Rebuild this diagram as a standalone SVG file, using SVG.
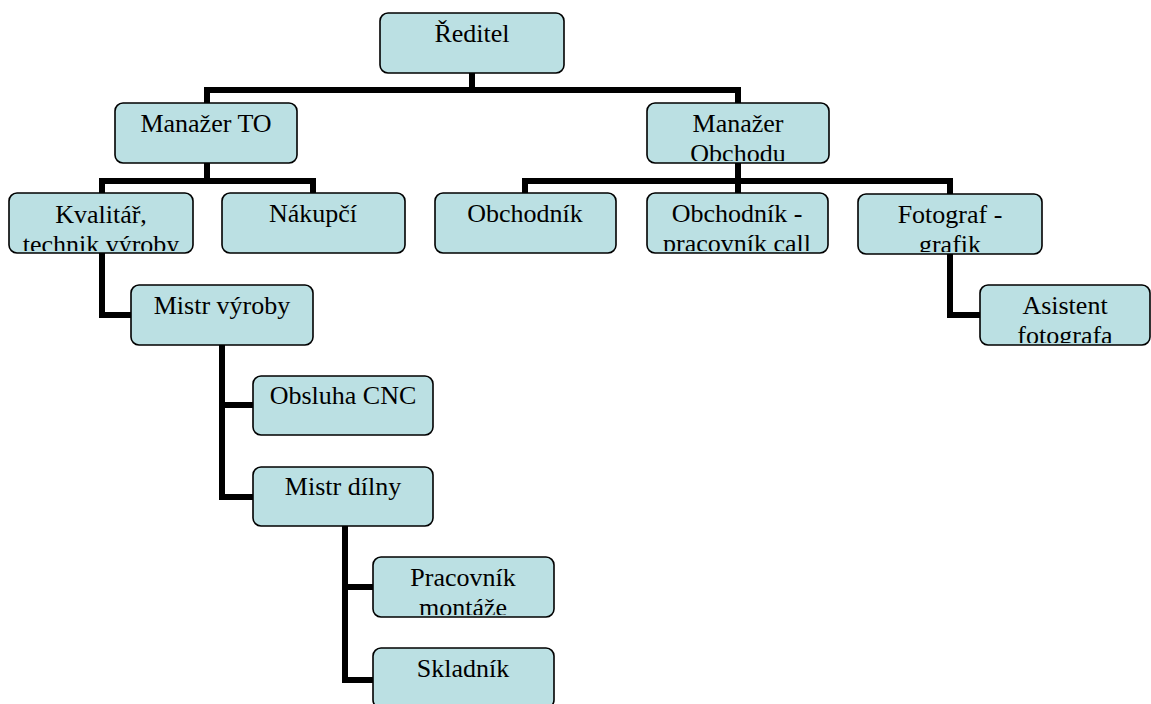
<svg xmlns="http://www.w3.org/2000/svg" width="1151" height="704" viewBox="0 0 1151 704">
<style>
.box{fill:#BBE0E3;stroke:#000;stroke-width:1.6}
.t{font-family:"Liberation Serif","Times New Roman",serif;font-size:26px;fill:#000;text-anchor:middle}
.c{fill:none;stroke:#000;stroke-width:6;stroke-linejoin:miter;stroke-linecap:square}
</style>
<defs>
<clipPath id="c1"><rect x="382" y="15" width="180" height="56"/></clipPath>
<clipPath id="c2"><rect x="117" y="105" width="178" height="56"/></clipPath>
<clipPath id="c3"><rect x="649" y="105" width="178" height="56"/></clipPath>
<clipPath id="c4"><rect x="11" y="195" width="180" height="56"/></clipPath>
<clipPath id="c5"><rect x="224" y="195" width="179" height="56"/></clipPath>
<clipPath id="c6"><rect x="437" y="195" width="177" height="56"/></clipPath>
<clipPath id="c7"><rect x="649" y="195" width="177" height="56"/></clipPath>
<clipPath id="c8"><rect x="860" y="196" width="180" height="56"/></clipPath>
<clipPath id="c9"><rect x="133" y="287" width="178" height="56"/></clipPath>
<clipPath id="c10"><rect x="982" y="287" width="166" height="56"/></clipPath>
<clipPath id="c11"><rect x="255" y="378" width="176" height="55"/></clipPath>
<clipPath id="c12"><rect x="255" y="469" width="176" height="55"/></clipPath>
<clipPath id="c13"><rect x="375" y="559" width="177" height="56"/></clipPath>
<clipPath id="c14"><rect x="375" y="650" width="177" height="56"/></clipPath>
</defs>
<g id="connectors">
<path class="c" d="M472,73 V90 M207,90 H738 M207,90 V103 M738,90 V103"/>
<path class="c" d="M207,163 V181 M102,181 H313 M102,181 V193 M313,181 V193"/>
<path class="c" d="M738,163 V181 M525,181 H950 M525,181 V193 M738,181 V193 M950,181 V194"/>
<path class="c" d="M102,253 V315 H131"/>
<path class="c" d="M950,254 V315 H980"/>
<path class="c" d="M222,345 V497 H253 M222,405 H253"/>
<path class="c" d="M345,526 V680 H373 M345,587 H373"/>
</g>
<g id="n-reditel"><rect class="box" x="380" y="13" width="184" height="60" rx="8"/><g clip-path="url(#c1)"><text class="t" x="472" y="42">Ředitel</text></g></g>
<g id="n-manazer-to"><rect class="box" x="115" y="103" width="182" height="60" rx="8"/><g clip-path="url(#c2)"><text class="t" x="206" y="132">Manažer TO</text></g></g>
<g id="n-manazer-obchodu"><rect class="box" x="647" y="103" width="182" height="60" rx="8"/><g clip-path="url(#c3)"><text class="t" x="738" y="132">Manažer</text><text class="t" x="738" y="162">Obchodu</text></g></g>
<g id="n-kvalitar"><rect class="box" x="9" y="193" width="184" height="60" rx="8"/><g clip-path="url(#c4)"><text class="t" x="101" y="223">Kvalitář,</text><text class="t" x="101" y="253">technik výroby</text></g></g>
<g id="n-nakupci"><rect class="box" x="222" y="193" width="183" height="60" rx="8"/><g clip-path="url(#c5)"><text class="t" x="313" y="222">Nákupčí</text></g></g>
<g id="n-obchodnik"><rect class="box" x="435" y="193" width="181" height="60" rx="8"/><g clip-path="url(#c6)"><text class="t" x="525" y="222">Obchodník</text></g></g>
<g id="n-obchodnik-call"><rect class="box" x="647" y="193" width="181" height="60" rx="8"/><g clip-path="url(#c7)"><text class="t" x="737" y="222">Obchodník -</text><text class="t" x="737" y="252">pracovník call</text></g></g>
<g id="n-fotograf"><rect class="box" x="858" y="194" width="184" height="60" rx="8"/><g clip-path="url(#c8)"><text class="t" x="950" y="223">Fotograf -</text><text class="t" x="950" y="253">grafik</text></g></g>
<g id="n-mistr-vyroby"><rect class="box" x="131" y="285" width="182" height="60" rx="8"/><g clip-path="url(#c9)"><text class="t" x="222" y="314">Mistr výroby</text></g></g>
<g id="n-asistent"><rect class="box" x="980" y="285" width="170" height="60" rx="8"/><g clip-path="url(#c10)"><text class="t" x="1065" y="314">Asistent</text><text class="t" x="1065" y="344">fotografa</text></g></g>
<g id="n-obsluha"><rect class="box" x="253" y="376" width="180" height="59" rx="8"/><g clip-path="url(#c11)"><text class="t" x="343" y="404">Obsluha CNC</text></g></g>
<g id="n-mistr-dilny"><rect class="box" x="253" y="467" width="180" height="59" rx="8"/><g clip-path="url(#c12)"><text class="t" x="343" y="495">Mistr dílny</text></g></g>
<g id="n-pracovnik"><rect class="box" x="373" y="557" width="181" height="60" rx="8"/><g clip-path="url(#c13)"><text class="t" x="463" y="586">Pracovník</text><text class="t" x="463" y="616">montáže</text></g></g>
<g id="n-skladnik"><rect class="box" x="373" y="648" width="181" height="60" rx="8"/><g clip-path="url(#c14)"><text class="t" x="463" y="677">Skladník</text></g></g>
</svg>
